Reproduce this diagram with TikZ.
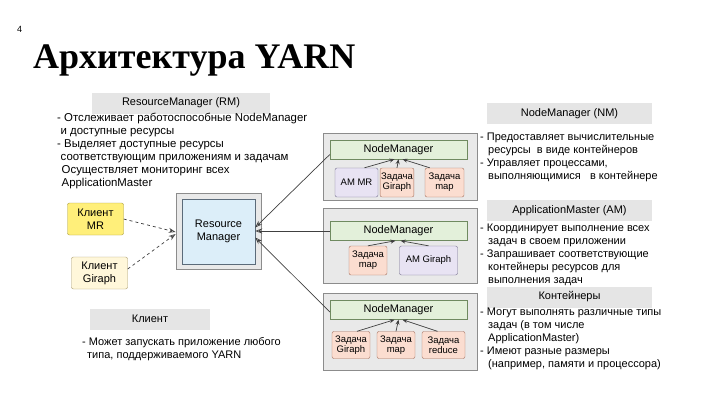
\documentclass[tikz,border=0pt]{standalone}
\usepackage{fontspec}
\setmainfont{Liberation Sans}
\newfontfamily\headfont{Liberation Serif}
\usetikzlibrary{arrows.meta,positioning}

\definecolor{headgray}{HTML}{E5E5E5}
\definecolor{panelfill}{HTML}{E9E9E9}
\definecolor{panelline}{HTML}{8C8C8C}
\definecolor{nmfill}{HTML}{E3F0DA}
\definecolor{nmline}{HTML}{6F8A60}
\definecolor{taskfill}{HTML}{FBDDD0}
\definecolor{taskline}{HTML}{A5705E}
\definecolor{amfill}{HTML}{E8E3F3}
\definecolor{amline}{HTML}{76708F}
\definecolor{rmfill}{HTML}{DCEEF9}
\definecolor{rmline}{HTML}{5B6B7A}
\definecolor{mrfill}{HTML}{FFEF7A}
\definecolor{mrline}{HTML}{A89A3A}
\definecolor{girfill}{HTML}{FFF7DA}
\definecolor{girline}{HTML}{A89A6A}
\definecolor{arrowgray}{HTML}{404040}

\begin{document}
\begin{tikzpicture}[
  x=1pt, y=-1pt,
  font=\fontsize{11}{13}\selectfont,
  head/.style={fill=headgray, minimum height=21pt, inner sep=0pt},
  desc/.style={anchor=north west, align=left, inner sep=0pt},
  panel/.style={draw=panelline, fill=panelfill, line width=0.8pt, inner sep=0pt},
  nmbar/.style={draw=nmline, fill=nmfill, minimum width=137pt, minimum height=19pt, inner sep=0pt},
  task/.style={draw=taskline, fill=taskfill, rounded corners=2pt, align=center, minimum height=29pt, inner sep=1pt, font=\fontsize{9.5}{10}\selectfont},
  amtask/.style={task, draw=amline, fill=amfill},
  client/.style={rounded corners=2pt, align=center, minimum width=56pt, minimum height=32pt, inner sep=1pt},
  toRM/.style={-{Stealth[open,length=7pt,width=5pt]}, draw=arrowgray, line width=0.7pt},
  call/.style={toRM, dashed},
  toNM/.style={-{Stealth[length=5pt,width=4pt]}, draw=arrowgray, line width=0.7pt}
]
\useasboundingbox (0,0) rectangle (720,405);

\node[anchor=base west, inner sep=0pt, font=\fontsize{9}{10}\selectfont] (num) at (17,32) {4};
\node[anchor=base west, inner sep=0pt, font=\headfont\bfseries\fontsize{36}{42}\selectfont] (title) at (33,68) {Архитектура YARN};

\node[head, minimum width=178pt] (rmhead) at (181,103) {ResourceManager (RM)};
\node[desc, font=\fontsize{11.4}{13}\selectfont] (rmtext) at (57,113) {- Отслеживает работоспособные NodeManager\\
\hspace{3.5pt}и доступные ресурсы\\
- Выделяет доступные ресурсы\\
\hspace{3.5pt}соответствующим приложениям и задачам\\
\hspace{4.5pt}Осуществляет мониторинг всех\\
\hspace{4.5pt}ApplicationMaster};

\node[head, minimum width=120pt] (clhead) at (150,319) {Клиент};
\node[desc] (cltext) at (82,337) {- Может запускать приложение любого\\
\hspace{5pt}типа, поддерживаемого YARN};

\node[head, minimum width=165pt] (nmhead) at (569.5,113.5) {NodeManager (NM)};
\node[desc] (nmtext) at (480,133) {- Предоставляет вычислительные\\
\hspace{8pt}ресурсы\ \ в виде контейнеров\\
- Управляет процессами,\\
\hspace{8pt}выполняющимися\ \ \ в контейнере};

\node[head, minimum width=165pt] (amhead) at (569.5,210.5) {ApplicationMaster (AM)};
\node[desc] (amtext) at (480,224) {- Координирует выполнение всех\\
\hspace{8pt}задач в своем приложении\\
- Запрашивает соответствующие\\
\hspace{8pt}контейнеры ресурсов для\\
\hspace{8pt}выполнения задач};

\node[head, minimum width=165pt] (conthead) at (569.5,297) {Контейнеры};
\node[desc] (conttext) at (480,308) {- Могут выполнять различные типы\\
\hspace{8pt}задач (в том числе\\
\hspace{8pt}ApplicationMaster)\\
- Имеют разные размеры\\
\hspace{8pt}(например, памяти и процессора)};

\node[panel, minimum width=85pt, minimum height=76pt] (rmbox) at (218.5,231) {};
\node[draw=rmline, fill=rmfill, minimum width=73pt, minimum height=65pt, align=center] (rm) at (218.5,231.5) {Resource\\Manager};

\node[client, draw=mrline, fill=mrfill] (mr) at (95.5,219) {Клиент\\MR};
\node[client, draw=girline, fill=girfill] (gir) at (99.5,273) {Клиент\\Giraph};

\node[panel, minimum width=154pt, minimum height=67pt] (node1) at (400,166.5) {};
\node[nmbar] (nm1) at (398.5,149.5) {NodeManager};
\node[amtask, minimum width=43pt] (amr) at (356.5,182.5) {AM MR};
\node[task, minimum width=31pt] (giraph1) at (397,182.5) {Задача\\Giraph};
\node[task, minimum width=39pt] (map1) at (444.5,182.5) {Задача\\map};

\node[panel, minimum width=154pt, minimum height=75pt] (node2) at (400,245.5) {};
\node[nmbar] (nm2) at (398.5,231) {NodeManager};
\node[task, minimum width=38pt] (map2) at (368,260.5) {Задача\\map};
\node[amtask, minimum width=58pt] (amgiraph) at (428.5,260.5) {AM Giraph};

\node[panel, minimum width=154pt, minimum height=77pt] (node3) at (400,331.5) {};
\node[nmbar] (nm3) at (398.5,310) {NodeManager};
\node[task, minimum width=38pt, minimum height=27pt] (giraph3) at (351,345) {Задача\\Giraph};
\node[task, minimum width=38pt, minimum height=27pt] (map3) at (396,345) {Задача\\map};
\node[task, minimum width=43pt, minimum height=27pt] (reduce3) at (443.5,345) {Задача\\reduce};

\draw[call] (mr.east) -- ([yshift=-1pt]rmbox.west);
\draw[call] ([yshift=4pt]gir.east) -- ([yshift=-3pt]rmbox.west);

\draw[toRM] ([yshift=-5pt]nm1.west) -- ([yshift=4pt]rm.east);
\draw[toRM] (nm2.west) -- (nm2.west -| rm.east);
\draw[toRM] ([yshift=-2pt]nm3.west) -- ([yshift=-6pt]rm.east);

\draw[toNM] ([xshift=8pt]amr.north) -- ([xshift=-4pt]nm1.south);
\draw[toNM] (giraph1.north) -- (nm1.south);
\draw[toNM] ([xshift=5pt]map1.north west) -- ([xshift=4pt]nm1.south);

\draw[toNM] (map2.north) -- ([xshift=-3pt]nm2.south);
\draw[toNM] (amgiraph.north) -- ([xshift=2pt]nm2.south);

\draw[toNM] ([xshift=6pt]giraph3.north) -- ([xshift=-4pt]nm3.south);
\draw[toNM] (map3.north) -- (nm3.south);
\draw[toNM] ([xshift=-6pt]reduce3.north) -- ([xshift=4pt]nm3.south);
\end{tikzpicture}
\end{document}
